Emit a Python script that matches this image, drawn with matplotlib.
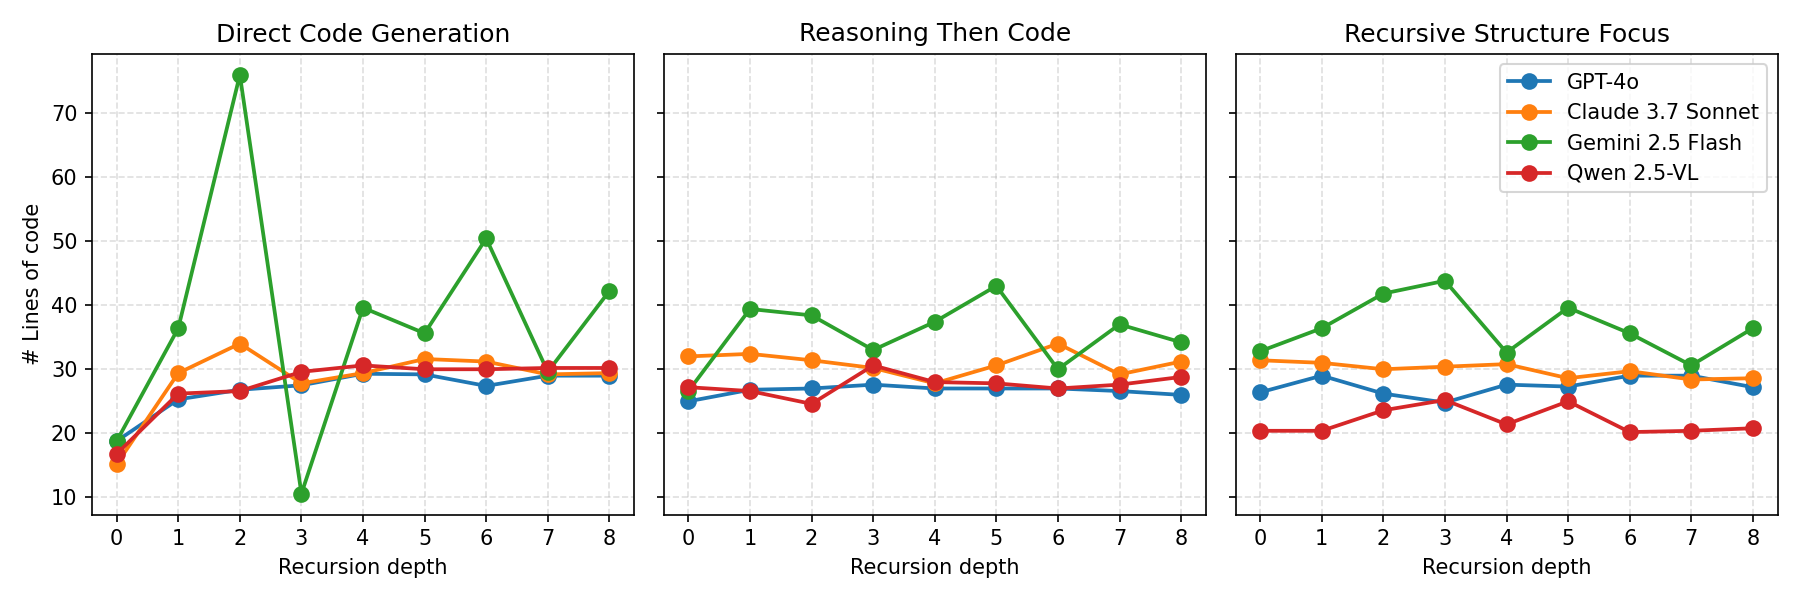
import matplotlib
matplotlib.use("Agg")
import matplotlib.pyplot as plt

depths = [0, 1, 2, 3, 4, 5, 6, 7, 8]
models = ["GPT-4o", "Claude 3.7 Sonnet", "Gemini 2.5 Flash", "Qwen 2.5-VL"]
panel_titles = ["Direct Code Generation", "Reasoning Then Code", "Recursive Structure Focus"]

direct_gpt = [18.8, 25.3, 26.8, 27.5, 29.3, 29.2, 27.4, 29.0, 29.0]
direct_claude = [15.2, 29.4, 34.0, 27.8, 29.4, 31.6, 31.2, 29.2, 29.4]
direct_gemini = [18.8, 36.4, 75.9, 10.6, 39.6, 35.6, 50.4, 29.6, 42.2]
direct_qwen = [16.8, 26.2, 26.6, 29.6, 30.6, 30.0, 30.0, 30.2, 30.2]

reason_gpt = [25.0, 26.8, 27.0, 27.6, 27.0, 27.0, 27.0, 26.6, 26.0]
reason_claude = [32.0, 32.4, 31.4, 30.2, 27.8, 30.6, 34.0, 29.2, 31.2]
reason_gemini = [26.6, 39.4, 38.4, 33.0, 37.4, 43.0, 30.0, 37.0, 34.2]
reason_qwen = [27.2, 26.6, 24.6, 30.6, 28.0, 27.8, 27.0, 27.6, 28.8]

recur_gpt = [26.4, 29.0, 26.2, 24.8, 27.6, 27.3, 29.0, 29.0, 27.2]
recur_claude = [31.4, 31.0, 30.0, 30.4, 30.8, 28.6, 29.7, 28.4, 28.6]
recur_gemini = [32.8, 36.4, 41.8, 43.8, 32.6, 39.6, 35.6, 30.6, 36.4]
recur_qwen = [20.4, 20.4, 23.6, 25.2, 21.4, 25.0, 20.2, 20.4, 20.8]

panels = [
    [direct_gpt, direct_claude, direct_gemini, direct_qwen],
    [reason_gpt, reason_claude, reason_gemini, reason_qwen],
    [recur_gpt, recur_claude, recur_gemini, recur_qwen],
]
colors = ["#1f77b4", "#ff7f0e", "#2ca02c", "#d62728"]

fig, axes = plt.subplots(1, 3, figsize=(12, 4), dpi=150, sharey=True)
for ax, title, series in zip(axes, panel_titles, panels):
    for name, vals, c in zip(models, series, colors):
        ax.plot(depths, vals, marker="o", color=c, linewidth=1.8, markersize=7, label=name)
    ax.set_title(title, fontsize=12)
    ax.set_xlabel("Recursion depth")
    ax.set_xticks(depths)
    ax.grid(True, linestyle="--", alpha=0.4)
axes[0].set_ylabel("# Lines of code")
axes[2].legend(loc="upper right")
fig.tight_layout()
fig.savefig("out.png")
